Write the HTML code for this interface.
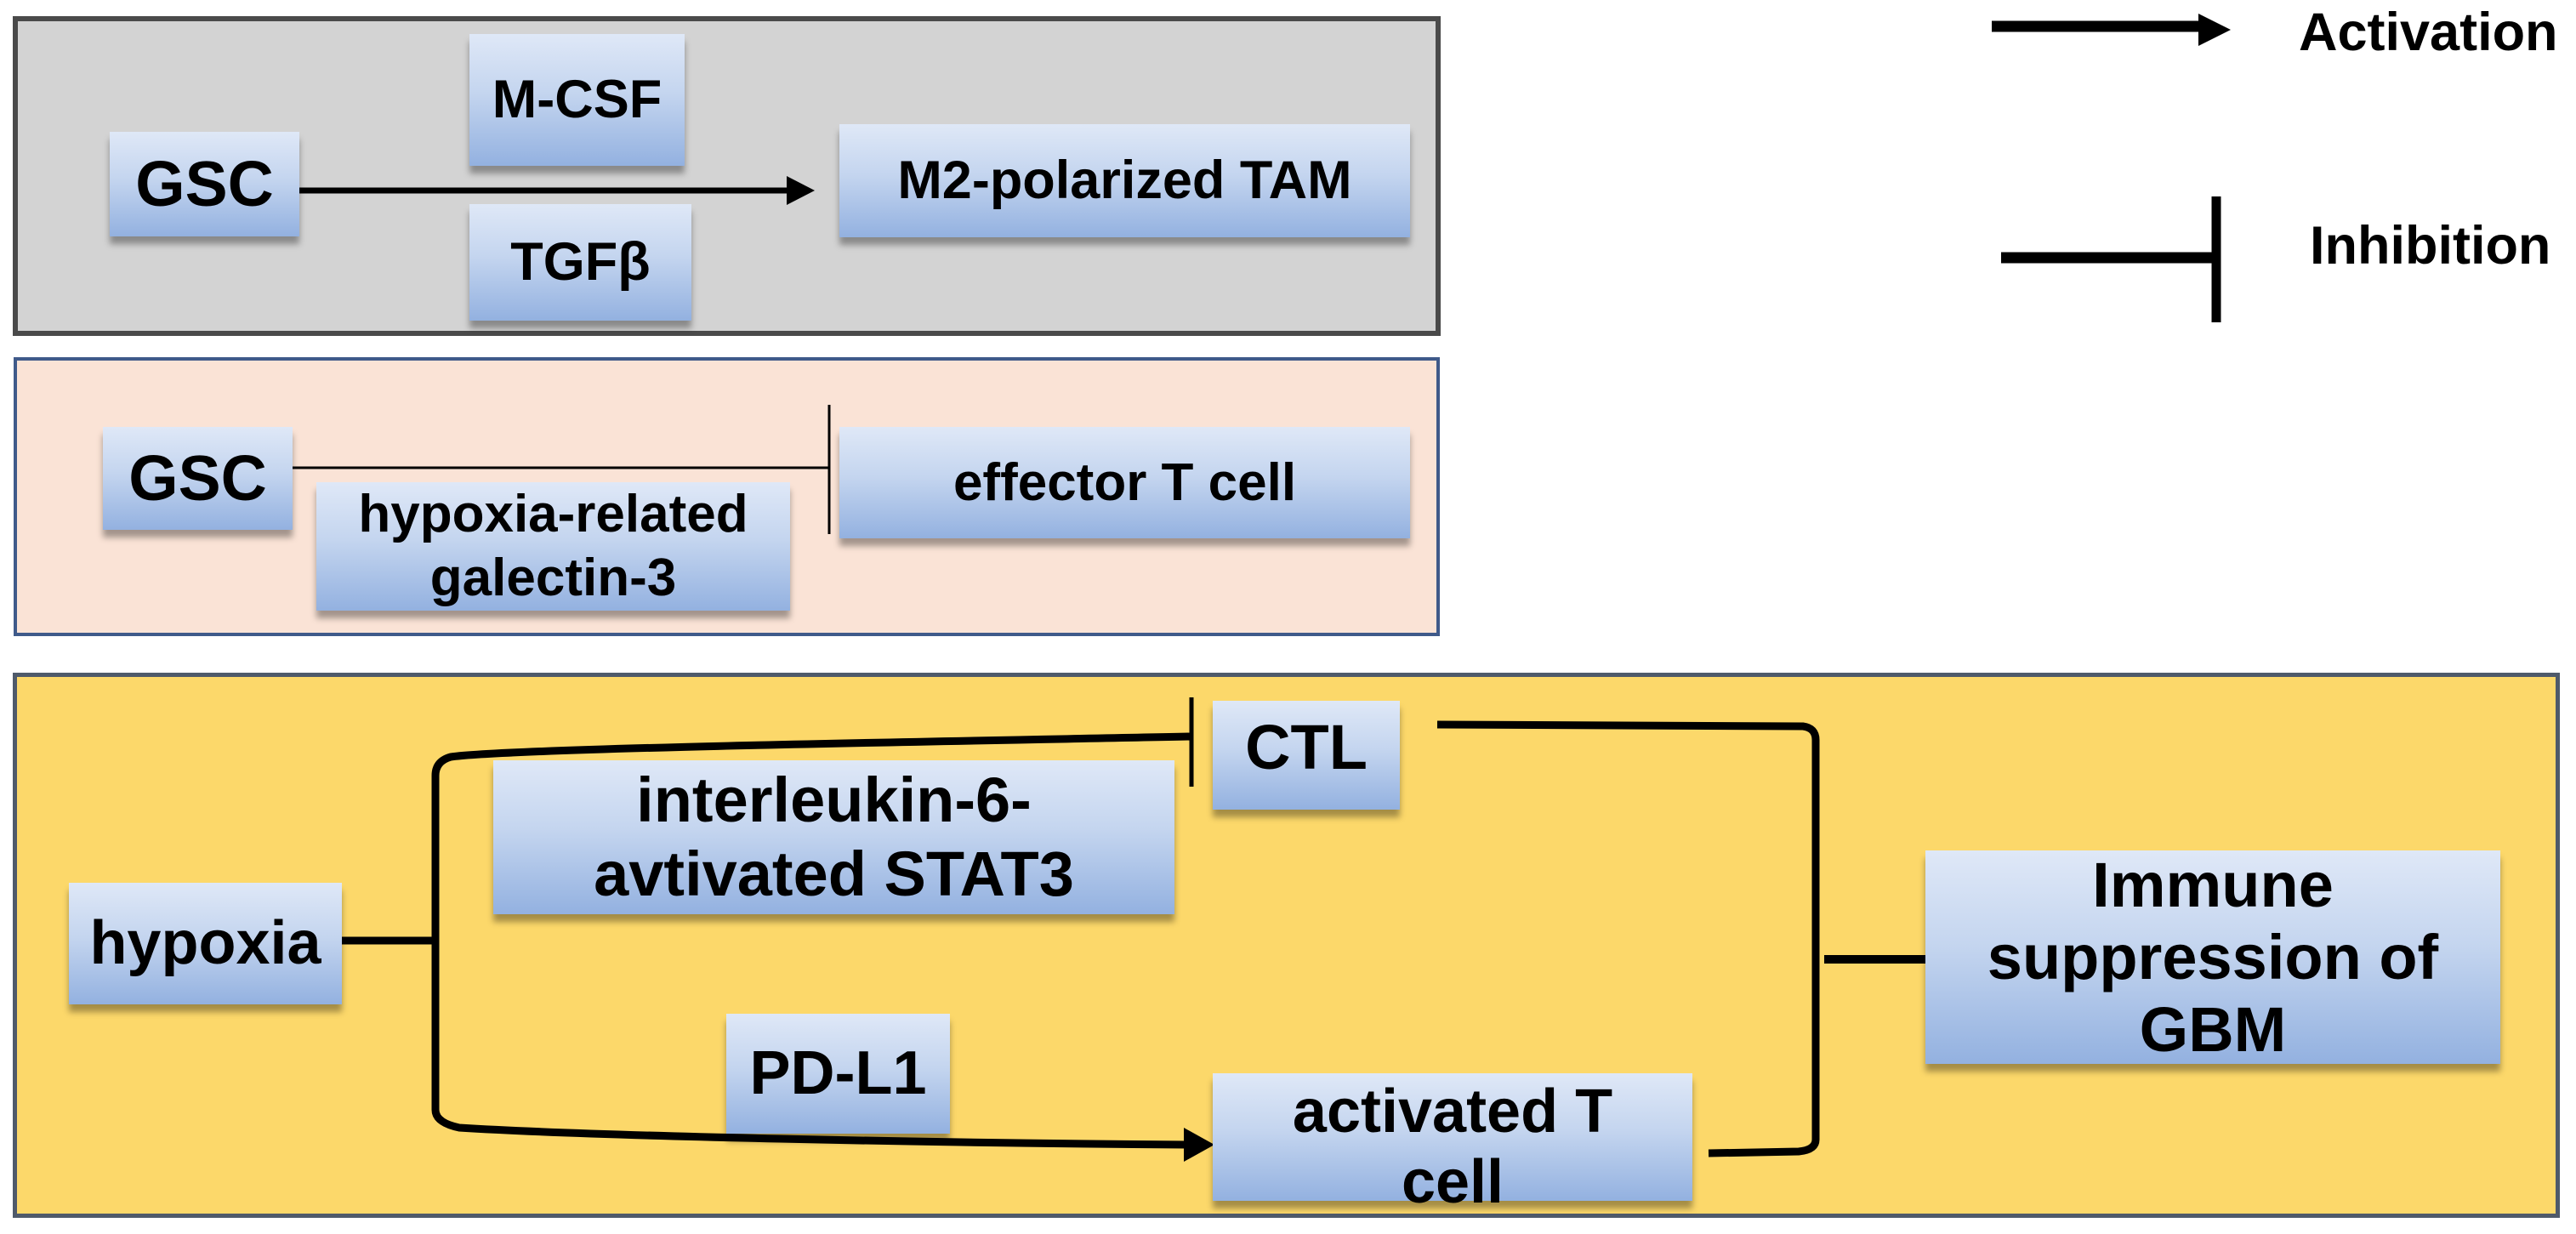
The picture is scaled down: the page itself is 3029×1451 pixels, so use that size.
<!DOCTYPE html>
<html><head><meta charset="utf-8"><style>
body{margin:0;width:3029px;height:1451px;background:#fff;position:relative;overflow:hidden;font-family:"Liberation Sans",Arial,sans-serif;font-weight:bold;}
.panel{position:absolute;box-sizing:border-box;}
.n{position:absolute;box-sizing:border-box;background:linear-gradient(#dfe8f7,#c4d5ef 45%,#93b1e0);box-shadow:0 9px 7px rgba(0,0,0,0.35);display:flex;align-items:center;justify-content:center;text-align:center;color:#000;line-height:1.15;}
.t{position:absolute;color:#000;}
svg{position:absolute;left:0;top:0;}
</style></head><body>
<div class="panel" style="left:15px;top:19px;width:1679px;height:376px;background:#d3d3d3;border:6px solid #4a4a4a;"></div>
<div class="panel" style="left:16px;top:420px;width:1677px;height:328px;background:#fae3d6;border:4px solid #3f5a8a;"></div>
<div class="panel" style="left:15px;top:791px;width:2995px;height:641px;background:#fcd86a;border:5px solid #4f5a6a;"></div>

<svg width="3029" height="1451">
<g fill="none" stroke="#000">
<line x1="346" y1="224" x2="930" y2="224" stroke-width="7"/>
<line x1="344" y1="550" x2="975" y2="550" stroke-width="3"/>
<line x1="975" y1="476" x2="975" y2="628" stroke-width="3"/>
<line x1="402" y1="1106" x2="512" y2="1106" stroke-width="9"/>
<path d="M1401 866 C1100 872 600 880 530 890 Q512 895 512 912 L512 1305 Q512 1320 540 1326 C700 1336 1100 1344 1395 1346" stroke-width="9"/>
<line x1="1401" y1="820" x2="1401" y2="925" stroke-width="5"/>
<path d="M1690 852 L2120 854 Q2135 856 2135 870 L2135 1340 Q2135 1352 2115 1354 L2009 1356" stroke-width="9"/>
<line x1="2145" y1="1128" x2="2264" y2="1128" stroke-width="10"/>
<line x1="2342" y1="31" x2="2590" y2="31" stroke-width="13"/>
<line x1="2353" y1="303" x2="2602" y2="303" stroke-width="13"/>
<line x1="2606" y1="231" x2="2606" y2="379" stroke-width="11"/>
</g>
<polygon points="925,207 958,224 925,241" fill="#000"/>
<polygon points="1392,1326 1428,1346 1392,1366" fill="#000"/>
<polygon points="2585,16 2623,35 2585,54" fill="#000"/>
</svg>

<div class="n" style="left:129px;top:155px;width:223px;height:123px;font-size:75px;">GSC</div>
<div class="n" style="left:552px;top:40px;width:253px;height:155px;font-size:63px;">M-CSF</div>
<div class="n" style="left:552px;top:240px;width:261px;height:137px;font-size:63px;">TGFβ</div>
<div class="n" style="left:987px;top:146px;width:671px;height:133px;font-size:63px;">M2-polarized TAM</div>

<div class="n" style="left:121px;top:502px;width:223px;height:121px;font-size:75px;">GSC</div>
<div class="n" style="left:372px;top:567px;width:557px;height:151px;font-size:62px;line-height:1.2;">hypoxia-related<br>galectin-3</div>
<div class="n" style="left:987px;top:502px;width:671px;height:131px;font-size:62px;">effector T cell</div>

<div class="n" style="left:81px;top:1038px;width:321px;height:143px;font-size:72px;">hypoxia</div>
<div class="n" style="left:580px;top:894px;width:801px;height:181px;font-size:74px;line-height:1.17;">interleukin-6-<br>avtivated STAT3</div>
<div class="n" style="left:1426px;top:824px;width:220px;height:128px;font-size:74px;align-items:flex-start;padding-top:12px;">CTL</div>
<div class="n" style="left:854px;top:1192px;width:263px;height:141px;font-size:72px;">PD-L1</div>
<div class="n" style="left:1426px;top:1262px;width:564px;height:150px;font-size:72px;line-height:1.15;align-items:flex-start;padding-top:4px;">activated T<br>cell</div>
<div class="n" style="left:2264px;top:1000px;width:676px;height:251px;font-size:74px;line-height:1.15;">Immune<br>suppression of<br>GBM</div>

<div class="t" style="left:2703px;top:2px;font-size:63px;">Activation</div>
<div class="t" style="left:2716px;top:253px;font-size:63px;">Inhibition</div>
</body></html>
